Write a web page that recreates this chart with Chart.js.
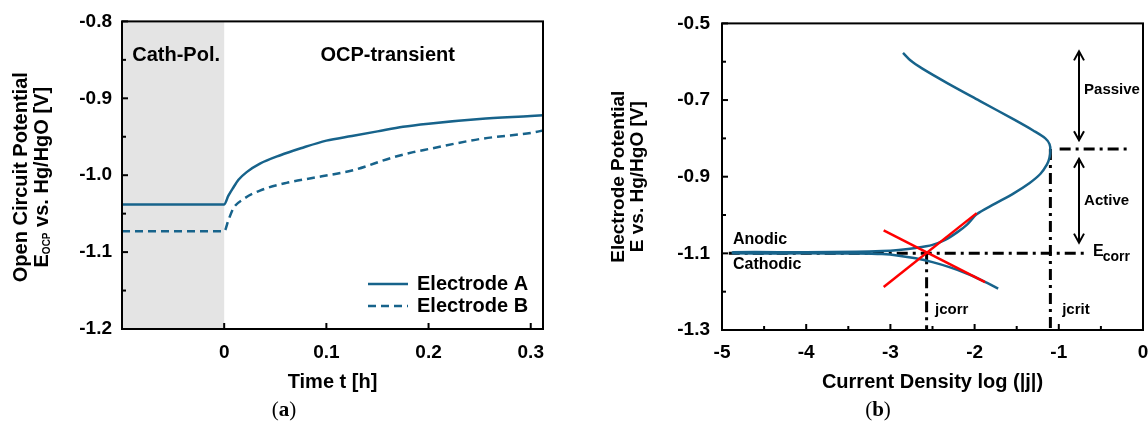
<!DOCTYPE html>
<html>
<head>
<meta charset="utf-8">
<script src="https://cdn.jsdelivr.net/npm/chart.js@4.4.1/dist/chart.umd.min.js"></script>
<style>
  html, body { margin: 0; padding: 0; background: #fff; }
  #wrap { position: relative; width: 1148px; height: 427px; overflow: hidden; }
  canvas { position: absolute; top: 0; }
  #chartA { left: 0; }
  #chartB { left: 574px; }
  .tag { position: absolute; top: 397px; transform: translateX(-50%); font-family: 'Liberation Serif', 'Times New Roman', serif; font-size: 21px; color: #000; }
</style>
</head>
<body>
<div id="wrap">
  <canvas id="chartA" width="574" height="427"></canvas>
  <canvas id="chartB" width="574" height="427"></canvas>
  <div class="tag" style="left:284px">(<b>a</b>)</div>
  <div class="tag" style="left:878px">(<b>b</b>)</div>
</div>
<script>
// --- Panel (a): OCP-Transiente ---
const timeA = [-0.1, 0, 0.004, 0.009, 0.014, 0.022, 0.035, 0.055, 0.075, 0.1, 0.125, 0.15, 0.175, 0.2, 0.25, 0.3, 0.312];
const eocpA = [-1.038, -1.038, -1.027, -1.016, -1.006, -0.996, -0.985, -0.974, -0.965, -0.955, -0.949, -0.943, -0.937, -0.933, -0.927, -0.923, -0.922];
const timeB = [-0.1, 0, 0.004, 0.009, 0.019, 0.035, 0.061, 0.085, 0.11, 0.125, 0.14, 0.155, 0.17, 0.185, 0.2, 0.25, 0.3, 0.312];
const eocpB = [-1.073, -1.073, -1.059, -1.043, -1.031, -1.020, -1.010, -1.004, -0.998, -0.994, -0.988, -0.981, -0.975, -0.970, -0.966, -0.953, -0.945, -0.942];
const timeTicks = [0, 0.1, 0.2, 0.3];
const eocpTicks = [-1.2, -1.1, -1.0, -0.9, -0.8];
const cathPolRange = [-0.1, 0];

// --- Panel (b): Polarisationskurve ---
const polLogJ = [-1.72, -1.90, -2.10, -2.30, -2.50, -2.70, -2.90, -3.10, -3.40, -4.00, -4.87,
                 -4.87, -4.00, -3.40, -3.10, -2.90, -2.70, -2.50, -2.35, -2.20, -2.09, -1.975,
                 -1.78, -1.54, -1.35, -1.22, -1.14, -1.11, -1.10, -1.11, -1.16, -1.30, -1.54, -1.94, -2.33, -2.62, -2.76, -2.85];
const polE = [-1.192, -1.172, -1.152, -1.136, -1.123, -1.113, -1.106, -1.102, -1.1005, -1.100, -1.100,
              -1.097, -1.097, -1.096, -1.094, -1.091, -1.086, -1.078, -1.065, -1.044, -1.025, -0.998,
              -0.973, -0.944, -0.917, -0.893, -0.868, -0.850, -0.832, -0.815, -0.800, -0.780, -0.750, -0.702, -0.655, -0.618, -0.597, -0.577];
const tafelAnLogJ = [-3.08, -1.975];
const tafelAnE = [-1.188, -0.995];
const tafelCatLogJ = [-3.08, -1.876];
const tafelCatE = [-1.040, -1.175];
const eCorr = -1.1;
const jCorr = -2.57;
const jCrit = -1.1;
const ePass = -0.828;
const logJTicks = [-5, -4, -3, -2, -1, 0];
const potTicks = [-1.3, -1.1, -0.9, -0.7, -0.5];

const blue = '#17638b';
const FONT = "'Liberation Sans', Arial, sans-serif";

const toXY = (xs, ys) => xs.map((v, i) => ({ x: v, y: ys[i] }));

// Rahmen + nach innen zeigende Ticks (mit Zwischenticks)
function frameTicks(minorX, minorY) {
    return {
        id: 'frameTicks',
        afterDraw(chart) {
            const { ctx, chartArea: a, scales: { x, y } } = chart;
            ctx.save();
            ctx.strokeStyle = '#000';
            ctx.lineWidth = 2;
            ctx.strokeRect(a.left, a.top, a.right - a.left, a.bottom - a.top);
            const mark = (scale, v, len) => {
                const p = scale.getPixelForValue(v);
                ctx.beginPath();
                if (scale.isHorizontal()) { ctx.moveTo(p, a.bottom); ctx.lineTo(p, a.bottom - len); }
                else { ctx.moveTo(a.left, p); ctx.lineTo(a.left + len, p); }
                ctx.stroke();
            };
            [[x, minorX], [y, minorY]].forEach(([scale, minor]) => {
                const vals = scale.ticks.map(t => t.value);
                vals.forEach(v => mark(scale, v, 6));
                if (minor) {
                    for (let i = 0; i < vals.length - 1; i++) mark(scale, (vals[i] + vals[i + 1]) / 2, 4);
                }
            });
            ctx.restore();
        }
    };
}

function text(ctx, str, x, y, size, align) {
    ctx.font = 'bold ' + size + 'px ' + FONT;
    ctx.textAlign = align || 'left';
    ctx.textBaseline = 'middle';
    ctx.fillText(str, x, y);
}

const panelAExtras = {
    id: 'panelAExtras',
    beforeDatasetsDraw(chart) {
        const { ctx, chartArea: a, scales: { x } } = chart;
        const x0 = x.getPixelForValue(cathPolRange[0]);
        const x1 = x.getPixelForValue(cathPolRange[1]);
        ctx.save();
        ctx.fillStyle = '#e4e4e4';
        ctx.fillRect(x0, a.top, x1 - x0, a.bottom - a.top);
        ctx.restore();
    },
    afterDraw(chart) {
        const { ctx, chartArea: a, scales: { x, y } } = chart;
        ctx.save();
        ctx.fillStyle = '#000';
        text(ctx, 'Cath-Pol.', x.getPixelForValue(-0.047), y.getPixelForValue(-0.844), 20, 'center');
        text(ctx, 'OCP-transient', x.getPixelForValue(0.160), y.getPixelForValue(-0.844), 20, 'center');

        // Legende unten rechts
        ctx.strokeStyle = blue;
        ctx.lineWidth = 2.5;
        const lx0 = a.right - 175, lx1 = a.right - 135;
        ctx.beginPath(); ctx.moveTo(lx0, a.bottom - 45); ctx.lineTo(lx1, a.bottom - 45); ctx.stroke();
        ctx.setLineDash([8, 5]);
        ctx.beginPath(); ctx.moveTo(lx0, a.bottom - 23); ctx.lineTo(lx1, a.bottom - 23); ctx.stroke();
        ctx.setLineDash([]);
        text(ctx, 'Electrode A', a.right - 126, a.bottom - 45, 20);
        text(ctx, 'Electrode B', a.right - 126, a.bottom - 23, 20);

        // y-Achsentitel mit Index "OCP"
        const cy = (a.top + a.bottom) / 2 + 2;
        ctx.save();
        ctx.translate(y.left + 21, cy);
        ctx.rotate(-Math.PI / 2);
        text(ctx, 'Open Circuit Potential', 0, 0, 20, 'center');
        ctx.restore();
        ctx.save();
        ctx.translate(y.left + 42, cy);
        ctx.rotate(-Math.PI / 2);
        ctx.font = 'bold 20px ' + FONT;
        const wE = ctx.measureText('E').width;
        const wRest = ctx.measureText(' vs. Hg/HgO [V]').width;
        ctx.font = 'bold 10px ' + FONT;
        const wSub = ctx.measureText('OCP').width;
        let sx = -(wE + wSub + wRest) / 2;
        text(ctx, 'E', sx, 0, 20); sx += wE;
        text(ctx, 'OCP', sx, 5, 10); sx += wSub;
        text(ctx, ' vs. Hg/HgO [V]', sx, 0, 20);
        ctx.restore();
        ctx.restore();
    }
};

const panelBExtras = {
    id: 'panelBExtras',
    afterDraw(chart) {
        const { ctx, scales: { x, y } } = chart;
        const X = v => x.getPixelForValue(v), Y = v => y.getPixelForValue(v);
        ctx.save();
        ctx.fillStyle = '#000';
        ctx.strokeStyle = '#000';
        ctx.lineWidth = 2;

        // Doppelpfeile Passive / Active
        const arrow = (xv, y0, y1) => {
            const px = X(xv), p0 = Y(y0), p1 = Y(y1);
            ctx.beginPath(); ctx.moveTo(px, p0); ctx.lineTo(px, p1); ctx.stroke();
            ctx.beginPath();
            ctx.moveTo(px - 5, p0 + 9); ctx.lineTo(px, p0); ctx.lineTo(px + 5, p0 + 9);
            ctx.moveTo(px - 5, p1 - 9); ctx.lineTo(px, p1); ctx.lineTo(px + 5, p1 - 9);
            ctx.stroke();
        };
        arrow(-0.76, -0.573, -0.805);
        arrow(-0.76, -0.853, -1.072);

        text(ctx, 'Passive', X(-0.70), Y(-0.673), 15);
        text(ctx, 'Active', X(-0.70), Y(-0.962), 15);
        text(ctx, 'Anodic', X(-4.87), Y(-1.063), 16);
        text(ctx, 'Cathodic', X(-4.87), Y(-1.130), 16);
        text(ctx, 'jcorr', X(-2.47), Y(-1.248), 15);
        text(ctx, 'jcrit', X(-0.96), Y(-1.248), 15);
        const ex = X(-0.594), ey = Y(-1.096);
        text(ctx, 'E', ex, ey, 16);
        ctx.font = 'bold 16px ' + FONT;
        const wE = ctx.measureText('E').width;
        text(ctx, 'corr', ex + wE - 1, ey + 5, 14);
        ctx.restore();
    }
};

const tickFont = { family: FONT, size: 19, weight: 'bold' };
const titleFont = { family: FONT, size: 20, weight: 'bold', lineHeight: 1.2 };

new Chart(document.getElementById('chartA'), {
    type: 'line',
    data: {
        datasets: [
            { label: 'Electrode A', data: toXY(timeA, eocpA), borderColor: blue, borderWidth: 2.5,
              pointRadius: 0, cubicInterpolationMode: 'monotone', fill: false },
            { label: 'Electrode B', data: toXY(timeB, eocpB), borderColor: blue, borderWidth: 2.5,
              borderDash: [8, 5], pointRadius: 0, cubicInterpolationMode: 'monotone', fill: false }
        ]
    },
    options: {
        responsive: false,
        animation: false,
        devicePixelRatio: 1,
        layout: { padding: { top: 20, right: 31, left: 0, bottom: 0 } },
        plugins: { legend: { display: false }, tooltip: { enabled: false } },
        scales: {
            x: {
                type: 'linear', min: -0.1, max: 0.312,
                afterBuildTicks: s => { s.ticks = timeTicks.map(v => ({ value: v })); },
                afterFit: s => { s.height = 98; s.paddingLeft = 0; s.paddingRight = 0; },
                grid: { display: false, drawTicks: false },
                border: { display: false },
                ticks: { font: tickFont, color: '#000', padding: 12, autoSkip: false, maxRotation: 0,
                         callback: v => v === 0 ? '0' : v.toFixed(1) },
                title: { display: true, text: 'Time t [h]', font: titleFont, color: '#000', padding: { bottom: 33 } }
            },
            y: {
                min: -1.2, max: -0.8,
                afterBuildTicks: s => { s.ticks = eocpTicks.map(v => ({ value: v })); },
                afterFit: s => { s.width = 122; },
                grid: { display: false, drawTicks: false },
                border: { display: false },
                ticks: { font: tickFont, color: '#000', padding: 10, callback: v => v.toFixed(1) }
            }
        }
    },
    plugins: [panelAExtras, frameTicks(false, true)]
});

const guide = (pts) => ({
    data: pts, borderColor: '#000', borderWidth: 3, borderDash: [11, 5, 3, 5],
    pointRadius: 0, showLine: true, tension: 0, order: 2
});

new Chart(document.getElementById('chartB'), {
    type: 'scatter',
    data: {
        datasets: [
            { label: 'Tafel anodic', data: toXY(tafelAnLogJ, tafelAnE), borderColor: '#ff0000', borderWidth: 2.5,
              pointRadius: 0, showLine: true, order: 0 },
            { label: 'Tafel cathodic', data: toXY(tafelCatLogJ, tafelCatE), borderColor: '#ff0000', borderWidth: 2.5,
              pointRadius: 0, showLine: true, order: 0 },
            { label: 'Polarisation', data: toXY(polLogJ, polE), borderColor: blue, borderWidth: 2.5,
              pointRadius: 0, showLine: true, tension: 0.3, order: 1 },
            guide([{ x: -4.92, y: eCorr }, { x: -0.66, y: eCorr }]),
            guide([{ x: jCorr, y: eCorr }, { x: jCorr, y: -1.3 }]),
            guide([{ x: jCrit, y: ePass }, { x: jCrit, y: -1.3 }]),
            guide([{ x: -0.99, y: ePass }, { x: -0.135, y: ePass }])
        ]
    },
    options: {
        responsive: false,
        animation: false,
        devicePixelRatio: 1,
        layout: { padding: { top: 20, right: 5, left: 0, bottom: 0 } },
        plugins: { legend: { display: false }, tooltip: { enabled: false } },
        scales: {
            x: {
                type: 'linear', min: -5, max: 0,
                afterBuildTicks: s => { s.ticks = logJTicks.map(v => ({ value: v })); },
                afterFit: s => { s.height = 97; s.paddingLeft = 0; s.paddingRight = 0; },
                grid: { display: false, drawTicks: false },
                border: { display: false },
                ticks: { font: tickFont, color: '#000', padding: 11, autoSkip: false, maxRotation: 0,
                         callback: v => String(v) },
                title: { display: true, text: 'Current Density log (|j|)', font: titleFont, color: '#000', padding: { bottom: 33 } }
            },
            y: {
                type: 'linear', min: -1.3, max: -0.5,
                afterBuildTicks: s => { s.ticks = potTicks.map(v => ({ value: v })); },
                afterFit: s => { s.width = 148; },
                grid: { display: false, drawTicks: false },
                border: { display: false },
                ticks: { font: tickFont, color: '#000', padding: 12, callback: v => v.toFixed(1) },
                title: { display: true, text: ['Electrode Potential', 'E vs. Hg/HgO [V]'],
                         font: { family: FONT, size: 19, weight: 'bold', lineHeight: 1.0 }, color: '#000',
                         padding: { top: 35 } }
            }
        }
    },
    plugins: [panelBExtras, frameTicks(true, true)]
});
</script>
</body>
</html>
